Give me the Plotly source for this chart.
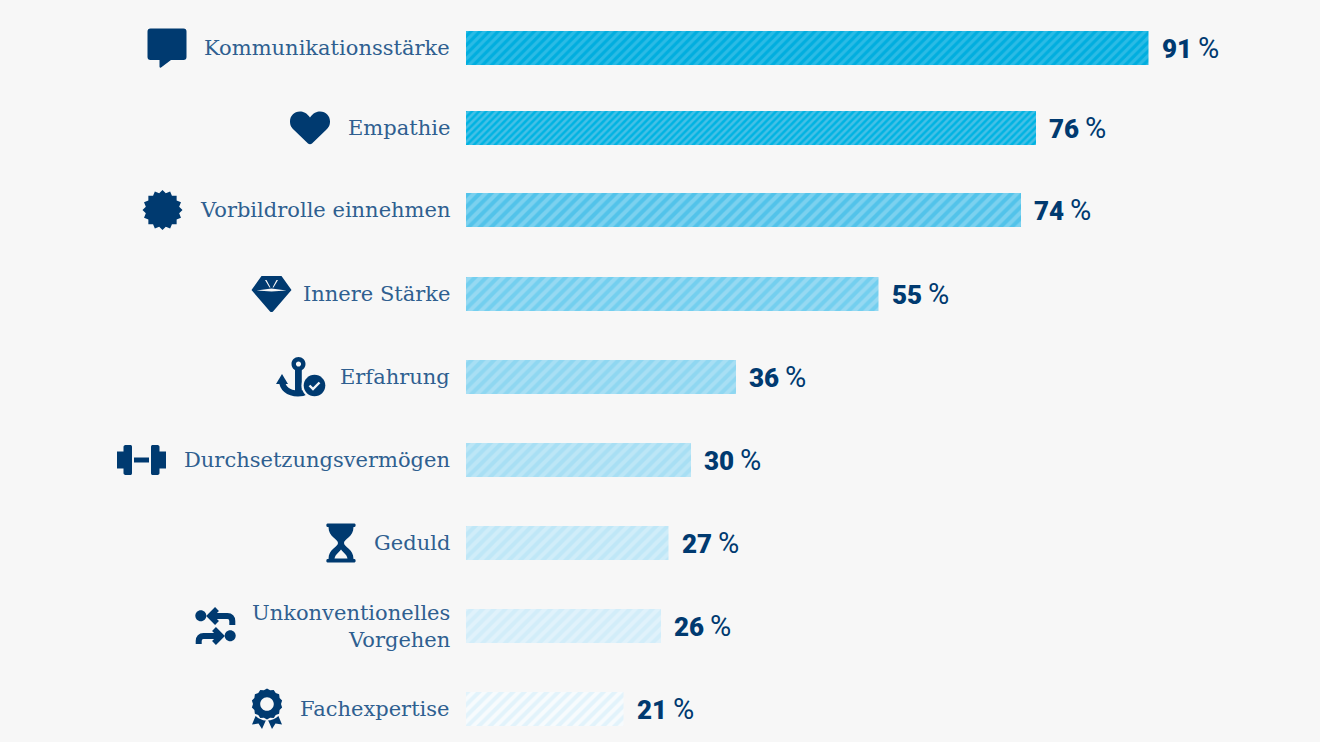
import math
import re

import plotly.graph_objects as go

categories = ["Kommunikationsstärke", "Empathie", "Vorbildrolle einnehmen", "Innere Stärke",
              "Erfahrung", "Durchsetzungsvermögen", "Geduld", "Unkonventionelles<br>Vorgehen",
              "Fachexpertise"]
values = [91, 76, 74, 55, 36, 30, 27, 26, 21]
stripe_bg = ["#00aedf", "#00b3e2", "#52c3ea", "#73cfef", "#8fd7f1", "#a8dff4", "#bfe7f7", "#d2edf9", "#e2f3fb"]
stripe_fg = ["#2bbbe5", "#45c0e6", "#7bd1ef", "#96d9f2", "#a8dff4", "#bce6f6", "#d0edf9", "#e0f2fb", "#f7fbfd"]
stripe_size = [6.4, 5, 8, 8, 8, 8, 8, 8, 8]
row_nudge = [3, 0, -1, 0, 0, 0, 0, 0, 0]

NAVY = "#003a70"
BG = "#f7f7f7"
W, H = 1320, 742
X0 = 466
PX_PER_PCT = 7.5
ROW_STEP = 83
FIRST_ROW = 45
BAR_PX = 34
LABEL_FONT = "DejaVu Serif"
VALUE_FONT = "Roboto"


def circle(cx, cy, r):
    k = 0.5523 * r
    return (f"M{cx-r},{cy} C{cx-r},{cy-k} {cx-k},{cy-r} {cx},{cy-r} C{cx+k},{cy-r} {cx+r},{cy-k} {cx+r},{cy} "
            f"C{cx+r},{cy+k} {cx+k},{cy+r} {cx},{cy+r} C{cx-k},{cy+r} {cx-r},{cy+k} {cx-r},{cy} Z")


def rect(x0, y0, x1, y1):
    return f"M{x0},{y0} L{x1},{y0} L{x1},{y1} L{x0},{y1} Z"


def burst(cx, cy, outer, inner, n):
    pts = []
    for i in range(2 * n):
        r = outer if i % 2 == 0 else inner
        a = math.pi * i / n
        pts.append(f"{cx + r * math.sin(a):.2f},{cy - r * math.cos(a):.2f}")
    return "M" + " L".join(pts) + " Z"


def fill(path, color=NAVY):
    return dict(path=path, fillcolor=color, line=dict(width=0))


def stroke(path, width, color=NAVY):
    return dict(path=path, fillcolor="rgba(0,0,0,0)", line=dict(color=color, width=width))


# Each icon: horizontal centre in pixels relative to the bar origin, and its drawing parts (y down)
icons = [
    (-299, [fill("M-16.5,-19.5 L16.5,-19.5 C18.5,-19.5 19.5,-18.5 19.5,-16.5 L19.5,9 C19.5,11 18.5,12 16.5,12 "
                 "L4,12 L-6,19.5 C-7,20 -7.5,19.5 -7.5,18.5 L-7.5,12 L-16.5,12 C-18.5,12 -19.5,11 -19.5,9 "
                 "L-19.5,-16.5 C-19.5,-18.5 -18.5,-19.5 -16.5,-19.5 Z")]),
    (-156, [fill("M0,-10.5 C-3,-15 -7,-16.5 -10,-16.5 C-16,-16.5 -20,-12 -20,-6.5 C-20,-2 -18,0 -16,2 "
                 "L-2,15.5 C-1,16.5 1,16.5 2,15.5 L16,2 C18,0 20,-2 20,-6.5 C20,-12 16,-16.5 10,-16.5 "
                 "C7,-16.5 3,-15 0,-10.5 Z")]),
    (-303.5, [fill(burst(0, 0, 20, 17, 16))]),
    (-194.5, [fill("M-10,-18 L10,-18 L20,-4 L1.5,17.5 C0.7,18.3 -0.7,18.3 -1.5,17.5 L-20,-4 Z "
                   "M-15,-3.5 L0,-5.5 L15,-3.5 L0,-2.5 Z "
                   "M-6.5,-14 L-5,-14 L-1,-6.5 L-2,-6.5 Z M6.5,-14 L5,-14 L1,-6.5 L2,-6.5 Z")]),
    (-165, [fill(circle(-2.5, -13, 7) + " " + circle(-2.5, -13, 2.6)),
            fill(rect(-6, -7, 0.8, 19)),
            stroke("M-19,3 C-19,11 -13,16.5 -3,16.5 C3,16.5 8,14 10,10", 6),
            fill("M-25,7 L-19,-3 L-13,7 Z"),
            fill(circle(13.5, 8.5, 13), BG),
            fill(circle(13.5, 8.5, 10.8)),
            stroke("M8.5,8.5 L12,12 L18.5,5.5", 2.4, "#f2f5f8")]),
    (-324.5, [fill(rect(-24.5, -8.5, -17.5, 8.5)),
              fill("M-18,-13 C-18,-14.5 -17,-15 -15,-15 L-11.5,-15 C-10,-15 -9.5,-14.5 -9.5,-13 L-9.5,13 "
                   "C-9.5,14.5 -10,15 -11.5,15 L-15,15 C-17,15 -18,14.5 -18,13 Z"),
              fill(rect(-7.5, -2.5, 7.5, 2.5)),
              fill(rect(17.5, -8.5, 24.5, 8.5)),
              fill("M9.5,-13 C9.5,-14.5 10,-15 11.5,-15 L15,-15 C17,-15 18,-14.5 18,-13 L18,13 "
                   "C18,14.5 17,15 15,15 L11.5,15 C10,15 9.5,14.5 9.5,13 Z")]),
    (-125, [fill("M-13.5,-19.5 L13.5,-19.5 C15,-19.5 15,-16 13.5,-16 L12.5,-16 C12.5,-6 3,-4 3,0 C3,4 12.5,6 12.5,16 "
                 "L13.5,16 C15,16 15,19.5 13.5,19.5 L-13.5,19.5 C-15,19.5 -15,16 -13.5,16 L-12.5,16 "
                 "C-12.5,6 -3,4 -3,0 C-3,-4 -12.5,-6 -12.5,-16 L-13.5,-16 C-15,-16 -15,-19.5 -13.5,-19.5 Z "
                 "M0,6.5 C2,9.5 5.5,11 6.5,15.5 L-6.5,15.5 C-5.5,11 -2,9.5 0,6.5 Z")]),
    (-250.5, [fill(circle(-14.7, -10.3, 5.5)),
              stroke("M-4,-10 L12,-10 C15,-10 16.8,-8 16.8,-5 L16.8,-1", 6),
              stroke("M1.5,-17 L-5.5,-10 L1.5,-3", 5.5),
              fill(circle(14.7, 9.7, 5.5)),
              stroke("M4,10 L-12,10 C-15,10 -16.8,12 -16.8,15 L-16.8,18", 6),
              stroke("M-1.5,3 L5.5,10 L-1.5,17", 5.5)]),
    (-199, [fill("M-11,6 L-15,15.5 L-8.5,14.5 L-5,20 L-1,11 Z M11,6 L15,15.5 L8.5,14.5 L5,20 L1,11 Z"),
            fill(circle(0, -5, 16.5), BG),
            fill(burst(0, -5, 15.5, 14, 14) + " " + circle(0, -5, 6.8))]),
]


def to_pixel_anchor(path, cx, dy):
    # Pixel-sized shapes count y upward from their anchor, the icon parts count downward
    def move(match):
        return f"{float(match.group(1)) + cx},{-(float(match.group(2)) + dy)}"
    return re.sub(r"(-?\d+\.?\d*),(-?\d+\.?\d*)", move, path)


fig = go.Figure()
for cat, val, bg, fg, size, dy in zip(categories, values, stripe_bg, stripe_fg, stripe_size, row_nudge):
    fig.add_trace(go.Bar(
        x=[val],
        y=[cat],
        orientation="h",
        width=BAR_PX / ROW_STEP,
        offset=(dy - BAR_PX / 2) / ROW_STEP,
        marker=dict(
            color=bg,
            line=dict(width=0),
            pattern=dict(shape="/", bgcolor=bg, fgcolor=fg, size=size, solidity=0.5, fgopacity=1),
        ),
        hoverinfo="skip",
    ))

shapes = []
for cat, (cx, parts), dy in zip(categories, icons, row_nudge):
    for part in parts:
        shapes.append(dict(type="path", xref="x", yref="y", xsizemode="pixel", ysizemode="pixel",
                           xanchor=0, yanchor=cat, path=to_pixel_anchor(part["path"], cx, dy),
                           fillcolor=part["fillcolor"], line=part["line"], layer="above"))

annotations = []
for cat, val, dy in zip(categories, values, row_nudge):
    annotations.append(dict(x=0, y=cat, xref="x", yref="y", text=cat, showarrow=False, xanchor="right",
                            align="right", xshift=-14, yshift=-dy,
                            font=dict(family=LABEL_FONT, size=21, color="#2f5f90")))
    annotations.append(dict(x=val, y=cat, xref="x", yref="y", showarrow=False, xanchor="left", xshift=11, yshift=-dy,
                            text=f"<span style='font-weight:900'>{val}</span>"
                                 f"<span style='font-size:29px'>\u2009%</span>",
                            font=dict(family=VALUE_FONT, size=26, color=NAVY)))

fig.update_layout(
    width=W, height=H,
    margin=dict(l=0, r=0, t=0, b=0),
    paper_bgcolor=BG, plot_bgcolor=BG,
    showlegend=False,
    barmode="overlay",
    xaxis=dict(visible=False, range=[-X0 / PX_PER_PCT, (W - X0) / PX_PER_PCT]),
    yaxis=dict(visible=False, type="category", categoryorder="array", categoryarray=categories,
               range=[(H - FIRST_ROW) / ROW_STEP, -FIRST_ROW / ROW_STEP]),
    shapes=shapes,
    annotations=annotations,
)

fig.write_html("out.html", config={"displayModeBar": False})
